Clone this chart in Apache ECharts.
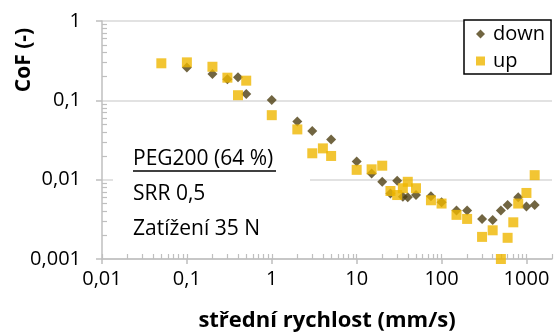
<!DOCTYPE html>
<html>
<head>
<meta charset="utf-8">
<script src="https://cdn.jsdelivr.net/npm/echarts@6/dist/echarts.min.js"></script>
<style>
  html, body { margin: 0; padding: 0; background: #fff; }
  #chart { width: 554px; height: 336px; }
</style>
</head>
<body>
<div id="chart"></div>
<script>
// Mean sliding speed (mm/s) and coefficient of friction for decreasing / increasing speed sweeps
const downSpeed = [0.1, 0.2, 0.3, 0.4, 0.5, 1, 2, 3, 5, 10, 15, 20, 25, 30, 35, 40, 50, 75, 100, 150, 200, 300, 400, 500, 600, 800, 1000, 1250];
const downCoF   = [0.26, 0.215, 0.185, 0.195, 0.12, 0.101, 0.054, 0.041, 0.032, 0.017, 0.012, 0.0094, 0.0067, 0.0097, 0.0061, 0.006, 0.0064, 0.0062, 0.0052, 0.0041, 0.0041, 0.0032, 0.0031, 0.0041, 0.0048, 0.006, 0.0046, 0.0048];

const upSpeed = [0.05, 0.1, 0.2, 0.3, 0.4, 0.5, 1, 2, 3, 4, 5, 10, 15, 20, 25, 30, 35, 40, 50, 75, 100, 150, 200, 300, 400, 500, 600, 700, 800, 1000, 1250];
const upCoF   = [0.293, 0.301, 0.265, 0.193, 0.116, 0.177, 0.065, 0.043, 0.0215, 0.0248, 0.0199, 0.0133, 0.0135, 0.015, 0.0072, 0.0064, 0.0078, 0.0094, 0.0078, 0.0055, 0.005, 0.0036, 0.0032, 0.0019, 0.0023, 0.001, 0.00185, 0.0029, 0.005, 0.0068, 0.0114];

const xTickValues = [0.01, 0.1, 1, 10, 100, 1000];
const yTickValues = [0.001, 0.01, 0.1, 1];
const seriesNames = ['down', 'up'];
const noteLines = ['PEG200 (64 %)', 'SRR 0,5', 'Zatížení 35 N'];

const FONT = '"Open Sans", "Noto Sans", sans-serif';
const AXIS_GRAY = '#bfbfbf';
const GRID_GRAY = '#d9d9d9';
const DOWN_COLOR = '#4e3e12';
const UP_COLOR = '#efb600';

// log-decade minor positions (2..9 per decade) within [lo, hi]
function logMinor(lo, hi, withMajor) {
  const out = [];
  for (let d = Math.round(Math.log10(lo)); Math.pow(10, d) <= hi; d++) {
    for (let k = withMajor ? 1 : 2; k <= 9; k++) {
      const v = +(k * Math.pow(10, d)).toPrecision(6);
      if (v >= lo && v <= hi) out.push(v);
    }
  }
  return out;
}
const fmt = v => String(Number((+v).toPrecision(4))).replace('.', ',');

const X_MIN = 0.01, X_MAX = 2000, Y_MIN = 0.001, Y_MAX = 1;

const chart = echarts.init(document.getElementById('chart'), null, { renderer: 'canvas' });

chart.setOption({
  animation: false,
  backgroundColor: '#ffffff',
  textStyle: { fontFamily: FONT },
  grid: { left: 102, right: 2, top: 21, bottom: 77, containLabel: false },
  legend: {
    orient: 'vertical',
    left: 464, top: 20,
    padding: [4, 6, 3, 12],
    itemGap: 7,
    itemWidth: 9, itemHeight: 9,
    borderColor: '#000', borderWidth: 1.5,
    backgroundColor: '#fff',
    textStyle: { fontFamily: FONT, fontSize: 20, color: '#000', padding: [0, 0, 0, 3] },
    data: [
      { name: seriesNames[0], icon: 'diamond' },
      { name: seriesNames[1], icon: 'rect' }
    ]
  },
  xAxis: [
    {
      type: 'log', logBase: 10, min: X_MIN, max: X_MAX,
      axisLine: { show: true, lineStyle: { color: AXIS_GRAY, width: 1.5 } },
      axisTick: { show: true, inside: false, length: 5, customValues: xTickValues, lineStyle: { color: AXIS_GRAY, width: 1.5 } },
      axisLabel: { customValues: xTickValues, formatter: fmt, margin: 10, fontFamily: FONT, fontSize: 20, color: '#000' },
      splitLine: { show: false }
    },
    {
      type: 'log', logBase: 10, min: X_MIN, max: X_MAX, position: 'bottom',
      axisLine: { show: false },
      axisTick: { show: true, inside: true, length: 5, customValues: logMinor(X_MIN, X_MAX, true), lineStyle: { color: AXIS_GRAY, width: 1.2 } },
      axisLabel: { show: false },
      splitLine: { show: false }
    }
  ],
  yAxis: [
    {
      type: 'log', logBase: 10, min: Y_MIN, max: Y_MAX,
      axisLine: { show: true, lineStyle: { color: AXIS_GRAY, width: 1.5 } },
      axisTick: { show: true, inside: false, length: 6, customValues: yTickValues, lineStyle: { color: AXIS_GRAY, width: 1.5 } },
      axisLabel: { customValues: yTickValues, formatter: fmt, margin: 21, fontFamily: FONT, fontSize: 20, color: '#000' },
      splitLine: { show: true, lineStyle: { color: GRID_GRAY, width: 1.5 } }
    },
    {
      type: 'log', logBase: 10, min: Y_MIN, max: Y_MAX, position: 'left',
      axisLine: { show: false },
      axisTick: { show: true, inside: true, length: 5, customValues: logMinor(Y_MIN, Y_MAX, false), lineStyle: { color: AXIS_GRAY, width: 1.2 } },
      axisLabel: { show: false },
      splitLine: { show: false }
    }
  ],
  series: [
    {
      name: seriesNames[0], type: 'scatter', xAxisIndex: 0, yAxisIndex: 0,
      symbol: 'diamond', symbolSize: 10,
      itemStyle: { color: DOWN_COLOR },
      data: downSpeed.map((x, i) => [x, downCoF[i]]),
      z: 3
    },
    {
      name: seriesNames[1], type: 'scatter', xAxisIndex: 0, yAxisIndex: 0,
      symbol: 'rect', symbolSize: 10,
      itemStyle: { color: UP_COLOR },
      data: upSpeed.map((x, i) => [x, upCoF[i]]),
      z: 4
    }
  ],
  graphic: [
    // annotation box (white fill hides the grid line behind it)
    { type: 'rect', left: 113, top: 146, shape: { width: 197, height: 104 }, style: { fill: '#fff' }, z: 1 },
    { type: 'text', left: 133, top: 149, style: { text: noteLines[0], font: '21px ' + FONT, fill: '#000' }, z: 2 },
    { type: 'line', shape: { x1: 133, y1: 171, x2: 276, y2: 171 }, style: { stroke: '#000', lineWidth: 1.3 }, z: 2 },
    { type: 'text', left: 133, top: 184, style: { text: noteLines[1], font: '21px ' + FONT, fill: '#000' }, z: 2 },
    { type: 'text', left: 133, top: 219, style: { text: noteLines[2], font: '21px ' + FONT, fill: '#000' }, z: 2 },
    // axis titles
    { type: 'text', x: 327, y: 321, style: { text: 'střední rychlost (mm/s)', font: 'bold 22px ' + FONT, fill: '#000', align: 'center', verticalAlign: 'middle' } },
    { type: 'text', x: 24, y: 60, rotation: Math.PI / 2, style: { text: 'CoF (-)', font: 'bold 21px ' + FONT, fill: '#000', align: 'center', verticalAlign: 'middle' } }
  ]
});
</script>
</body>
</html>
